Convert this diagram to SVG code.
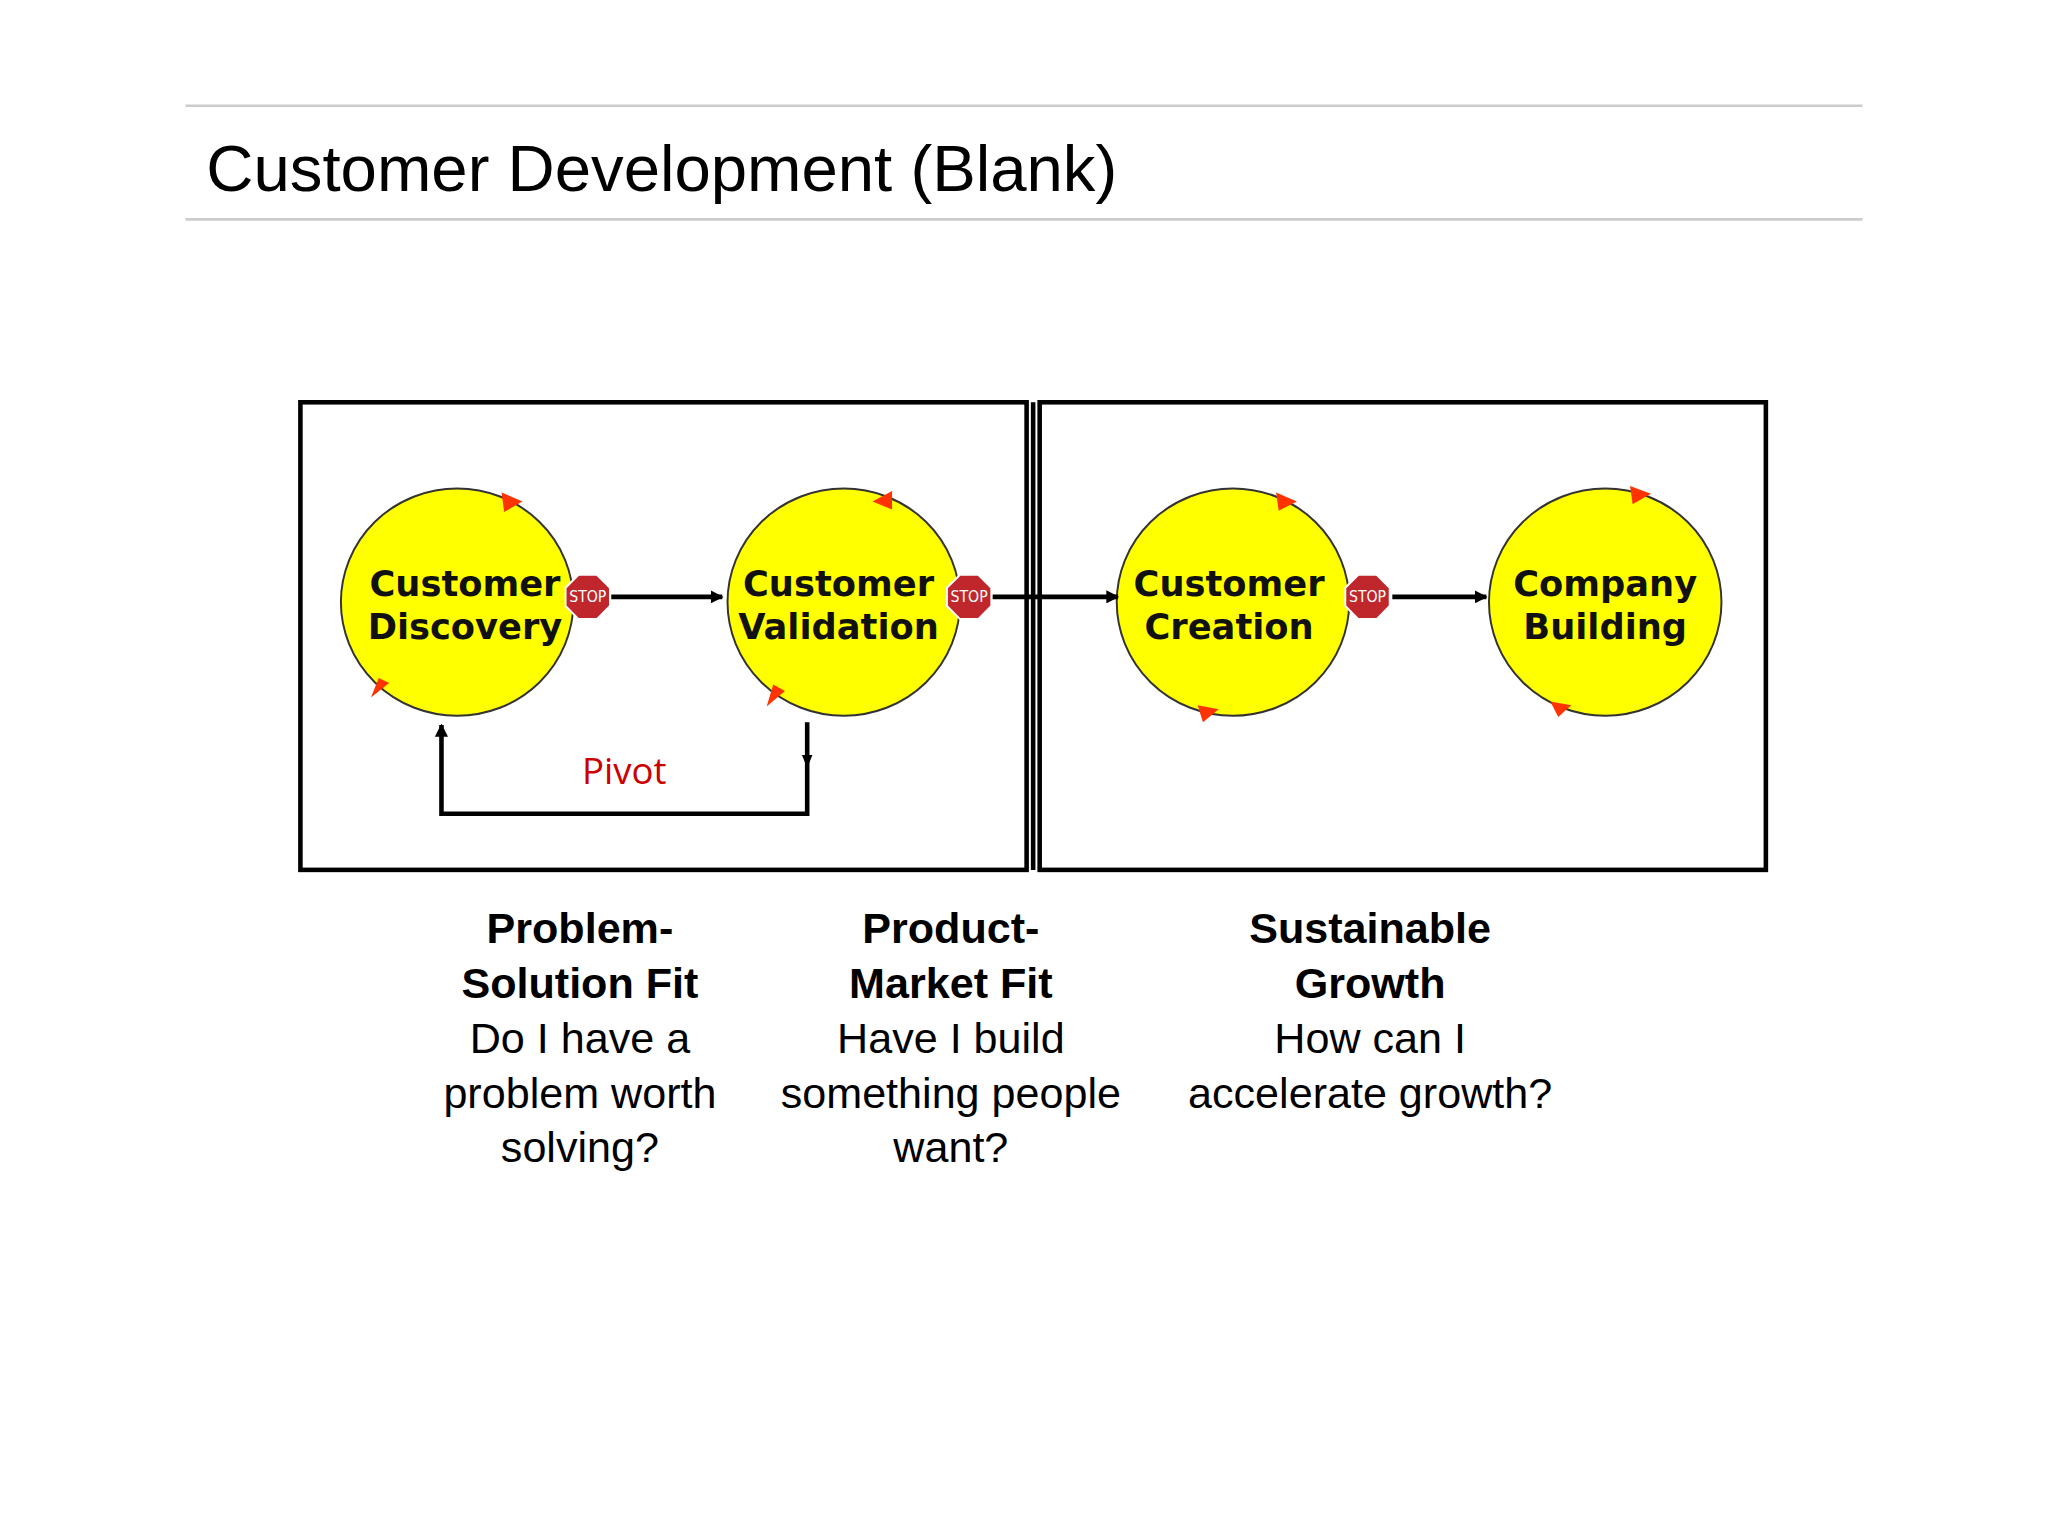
<svg xmlns="http://www.w3.org/2000/svg" width="2048" height="1536" viewBox="0 0 2048 1536">
<defs>
<style>
.c{fill:#ffff00;stroke:#333;stroke-width:1.5}
.n{font-family:"DejaVu Sans",sans-serif;font-weight:bold;font-size:27px;text-anchor:middle;fill:#111}
.b{font-family:"Liberation Sans",Arial,sans-serif;font-size:33px;text-anchor:middle;fill:#000}
.bb{font-weight:bold}
.s{fill:#c0272d;stroke:#fff;stroke-width:1.5}
.st{font-family:"DejaVu Sans Condensed","DejaVu Sans",sans-serif;font-size:12px;fill:#fff;text-anchor:middle}
.ln{stroke:#000;stroke-width:3.5;fill:none}
.ra{fill:#ff3300}
</style>
<marker id="a" markerWidth="10" markerHeight="10" refX="9" refY="5" orient="auto" markerUnits="userSpaceOnUse"><path d="M0,0 L10,5 L0,10z" fill="#000"/></marker>
<symbol id="stop" viewBox="-18 -18 36 36"><polygon class="s" points="-7,-17 7,-17 17,-7 17,7 7,17 -7,17 -17,7 -17,-7"/><text class="st" y="4">STOP</text></symbol>
</defs>
<rect width="2048" height="1536" fill="#fff"/>
<g transform="scale(1.30612)">
<g id="title">
<line x1="142" y1="81" x2="1426" y2="81" stroke="#ccc" stroke-width="2"/>
<line x1="142" y1="168" x2="1426" y2="168" stroke="#ccc" stroke-width="2"/>
<text x="158" y="146" font-family="Liberation Sans,Arial,sans-serif" font-size="50" fill="#000">Customer Development (Blank)</text>
</g>
<g id="frames" fill="none" stroke="#000" stroke-width="3.5">
<rect x="230" y="308" width="556" height="358"/>
<rect x="796" y="308" width="556" height="358"/>
<line x1="791" y1="308" x2="791" y2="666"/>
</g>
<g id="discovery"><ellipse class="c" cx="350" cy="461" rx="89" ry="87"/><text class="n" x="356" y="456">Customer</text><text class="n" x="356" y="489">Discovery</text>
<path class="ra" d="M384,377 L400,384 L386,392z"/><path class="ra" d="M284,534 L298,523 L290,519z"/></g>
<g id="validation"><ellipse class="c" cx="646" cy="461" rx="89" ry="87"/><text class="n" x="642" y="456">Customer</text><text class="n" x="642" y="489">Validation</text>
<path class="ra" d="M683,376 L668,384 L683,390z"/><path class="ra" d="M587,541 L601,529 L592,524z"/></g>
<g id="creation"><ellipse class="c" cx="944" cy="461" rx="89" ry="87"/><text class="n" x="941" y="456">Customer</text><text class="n" x="941" y="489">Creation</text>
<path class="ra" d="M977,377 L993,384 L979,391z"/><path class="ra" d="M917,540 L933,543 L921,553z"/></g>
<g id="building"><ellipse class="c" cx="1229" cy="461" rx="89" ry="87"/><text class="n" x="1229" y="456">Company</text><text class="n" x="1229" y="489">Building</text>
<path class="ra" d="M1248,372 L1264,378 L1250,386z"/><path class="ra" d="M1187,537 L1203,540 L1193,549z"/></g>
<g id="stops">
<use href="#stop" x="432" y="439" width="36" height="36"/>
<use href="#stop" x="724" y="439" width="36" height="36"/>
<use href="#stop" x="1029" y="439" width="36" height="36"/>
</g>
<g id="connectors">
<line class="ln" x1="468" y1="457" x2="553" y2="457" marker-end="url(#a)"/>
<line class="ln" x1="760" y1="457" x2="856" y2="457" marker-end="url(#a)"/>
<line class="ln" x1="1066" y1="457" x2="1138" y2="457" marker-end="url(#a)"/>
<path class="ln" d="M618,553 L618,623 L338,623 L338,555" marker-end="url(#a)"/>
<path d="M614,578 L618,588 L622,578z" fill="#000"/>
<text x="478" y="600" font-family="Open Sans,sans-serif" font-size="28" fill="#cc0000" text-anchor="middle">Pivot</text>
</g>
<g id="captions">
<text class="b bb" x="444" y="722">Problem-</text><text class="b bb" x="444" y="764">Solution Fit</text>
<text class="b" x="444" y="806">Do I have a</text><text class="b" x="444" y="848">problem worth</text><text class="b" x="444" y="890">solving?</text>
<text class="b bb" x="728" y="722">Product-</text><text class="b bb" x="728" y="764">Market Fit</text>
<text class="b" x="728" y="806">Have I build</text><text class="b" x="728" y="848">something people</text><text class="b" x="728" y="890">want?</text>
<text class="b bb" x="1049" y="722">Sustainable</text><text class="b bb" x="1049" y="764">Growth</text>
<text class="b" x="1049" y="806">How can I</text><text class="b" x="1049" y="848">accelerate growth?</text>
</g>
</g>
</svg>
